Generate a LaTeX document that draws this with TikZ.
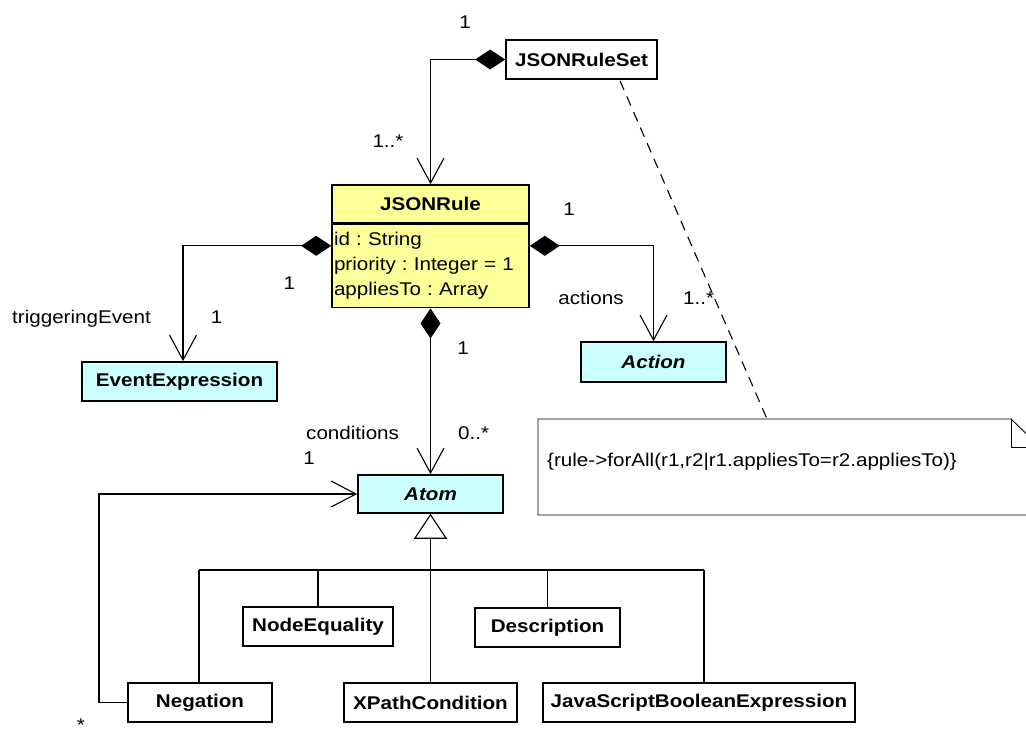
\documentclass[tikz,border=0pt]{standalone}
\usepackage{fontspec}
\setmainfont{Liberation Sans}[FakeStretch=1.12]
\usetikzlibrary{arrows.meta,calc}
\definecolor{ruleyellow}{RGB}{255,255,153}
\definecolor{abscyan}{RGB}{204,255,255}
\frenchspacing
\begin{document}
\begin{tikzpicture}[x=1pt,y=-1pt,
  font=\fontsize{18.4}{25}\selectfont,
  cls/.style={draw=black, line width=1.6pt, inner sep=0pt, minimum height=39pt,
    font=\fontsize{18.4}{25}\selectfont\bfseries, fill=white},
  abscls/.style={cls, fill=abscyan, font=\fontsize{18.4}{25}\selectfont\bfseries\itshape},
  conn/.style={line width=1.1pt},
  comp/.style={conn, {Diamond[length=30pt,width=20pt]}-{Straight Barb[length=25pt,width=27pt,line width=1.1pt]}},
  assoc/.style={conn, -{Straight Barb[length=25pt,width=26pt,line width=1.1pt]}},
  gen/.style={conn, -{Triangle[length=25pt,width=33pt,fill=white,line width=1.1pt]}},
  lbl/.style={inner sep=0pt, font=\fontsize{18.4}{25}\selectfont},
]
\useasboundingbox (0,0) rectangle (1026,736);
\clip (0,0) rectangle (1026,736);

% note
\draw[line width=0.9pt, fill=white] (538,419) -- (1011,419) -- (1040,447) -- (1040,515) -- (538,515) -- cycle;
\draw[line width=0.9pt] (1011,419) -- (1011,447) -- (1040,447);
\coordinate (notetop) at (767,419);
\node[lbl, anchor=base west] (notetxt) at (547,466.5) {\{rule->forAll(r1,r2|r1.appliesTo=r2.appliesTo)\}};

% classes
\node[cls, minimum width=151pt] (set) at (581.5,59.5) {JSONRuleSet};
\node[cls, fill=ruleyellow, minimum width=197pt, minimum height=38pt] (head) at (430.5,204) {JSONRule};
\node[draw=black, line width=1.6pt, fill=ruleyellow, minimum width=197pt, minimum height=83pt,
  text width=193pt, align=left, inner sep=0pt, anchor=north] (body) at (head.south)
  {id : String\\priority : Integer = 1\\appliesTo : Array};
\node[abscls, minimum width=195pt, font=\fontsize{18.4}{25}\selectfont\bfseries] (ee) at (179.5,381.5) {EventExpression};
\node[abscls, minimum width=145pt, minimum height=40pt] (act) at (653.5,362) {Action};
\node[abscls, minimum width=145pt, minimum height=38pt] (atom) at (430.5,494) {Atom};
\node[cls, minimum width=144pt] (neg) at (200,702.5) {Negation};
\node[cls, minimum width=150pt] (nodeeq) at (318,626.5) {NodeEquality};
\node[cls, minimum width=173pt] (xpath) at (430.5,702.5) {XPathCondition};
\node[cls, minimum width=145pt] (desc) at (547.5,627.5) {Description};
\node[cls, minimum width=312pt] (js) at (699,702.5) {JavaScriptBooleanExpression};

% dashed anchor line
\draw[conn, dash pattern=on 10pt off 7pt] ($(set.south)+(38.5,1)$) -- (notetop);

% compositions
\draw[comp] (set.west) -| (head.north);
\coordinate (rl) at ($(body.north west)+(0,22)$);
\coordinate (rr) at ($(body.north east)+(0,22)$);
\draw[comp] (rl) -| ([xshift=3.5pt]ee.north);
\draw[comp] (rr) -| (act.north);
\draw[comp] (body.south) -- (atom.north);

% generalization
\coordinate (busL) at (199,570);
\coordinate (busR) at (704,570);
\draw[conn] (busL) -- (busR);
\draw[gen] (xpath.north) -- (atom.south);
\draw[conn] (neg.north -| busL) -- (busL);
\draw[conn] (nodeeq.north) -- (nodeeq.north |- busL);
\draw[conn] (desc.north) -- (desc.north |- busL);
\draw[conn] (js.north -| busR) -- (busR);

% self association
\coordinate (selfc) at (99,600);
\draw[assoc] (neg.west) -| (selfc) |- (atom.west);

% labels
\node[lbl, anchor=base] (l1) at (465,28.5) {1};
\node[lbl, anchor=base] (l2) at (388,147.3) {1..*};
\node[lbl, anchor=base] (l3) at (569,215) {1};
\node[lbl, anchor=base] (l4) at (289.3,289) {1};
\node[lbl, anchor=base west] (l5) at (12,323) {triggeringEvent};
\node[lbl, anchor=base] (l6) at (216.7,323) {1};
\node[lbl, anchor=base] (l7) at (591,304.3) {actions};
\node[lbl, anchor=base west] (l8) at (683,304.3) {1..*};
\node[lbl, anchor=base] (l9) at (463,354) {1};
\node[lbl, anchor=base west] (l10) at (306,439) {conditions};
\node[lbl, anchor=base west] (l11) at (458,439) {0..*};
\node[lbl, anchor=base] (l12) at (309,464) {1};
\node[lbl, anchor=base] (l13) at (81,731) {*};
\end{tikzpicture}
\end{document}
